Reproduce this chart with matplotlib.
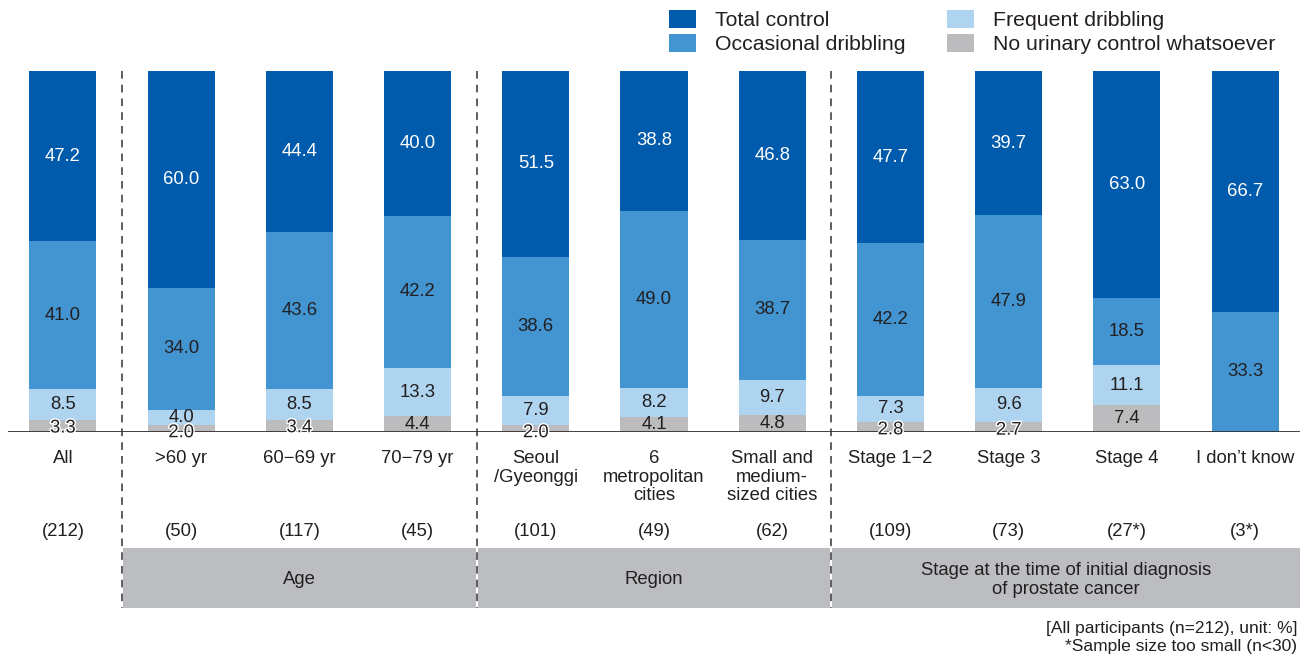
import matplotlib.pyplot as plt
import matplotlib.patheffects as pe
from matplotlib.patches import Rectangle
import numpy as np

plt.rcParams['font.family'] = ['Liberation Sans', 'DejaVu Sans']

# --- datos ---
categories = ["All", ">60 yr", "60\u221269 yr", "70\u221279 yr", "Seoul\n/Gyeonggi",
              "6\nmetropolitan\ncities", "Small and\nmedium-\nsized cities",
              "Stage 1\u22122", "Stage 3", "Stage 4", "I don\u02bct know"]
counts = ["(212)", "(50)", "(117)", "(45)", "(101)", "(49)", "(62)",
          "(109)", "(73)", "(27*)", "(3*)"]
no_control = [3.3, 2.0, 3.4, 4.4, 2.0, 4.1, 4.8, 2.8, 2.7, 7.4, 0]
frequent = [8.5, 4.0, 8.5, 13.3, 7.9, 8.2, 9.7, 7.3, 9.6, 11.1, 0]
occasional = [41.0, 34.0, 43.6, 42.2, 38.6, 49.0, 38.7, 42.2, 47.9, 18.5, 33.3]
total_control = [47.2, 60.0, 44.4, 40.0, 51.5, 38.8, 46.8, 47.7, 39.7, 63.0, 66.7]
series_names = ["No urinary control whatsoever", "Frequent dribbling",
                "Occasional dribbling", "Total control"]
groups = [("Age", 1, 3), ("Region", 4, 6),
          ("Stage at the time of initial diagnosis\nof prostate cancer", 7, 10)]

colors = ["#BCBCBF", "#AED4F0", "#4295D1", "#005BAC"]
text_dark = "#231F20"
fs = 13.3

W, H = 1311, 657
fig = plt.figure(figsize=(W / 100, H / 100), dpi=100)
ax = fig.add_axes([8 / W, (H - 432) / H, (1300 - 8) / W, (432 - 71) / H])

x = np.arange(len(categories))
width = 0.567
series = [no_control, frequent, occasional, total_control]
bottom = np.zeros(len(categories))
for vals, col, name in zip(series, colors, series_names):
    vals = np.array(vals)
    ax.bar(x, vals, width, bottom=bottom, color=col, label=name, zorder=2)
    for i, v in enumerate(vals):
        if v <= 0:
            continue
        y = bottom[i] + v / 2
        if name == series_names[0] and v < 3.5:
            y = v - 2.2
        tc = "white" if name == "Total control" else text_dark
        t = ax.text(x[i], y, f"{v:.1f}", ha="center", va="center",
                    fontsize=fs, color=tc, zorder=4, clip_on=False)
        if name == series_names[0] and v < 3.5:
            t.set_path_effects([pe.withStroke(linewidth=2, foreground="white")])
    bottom += vals

ax.set_xlim(-0.465, 10.465)
ax.set_ylim(0, 100)
ax.axis("off")
ax.axhline(0, color="#333333", lw=1.3, zorder=3)

trans = ax.get_xaxis_transform()
px = 1 / 361  # un píxel en fracción de eje
for xd in [0.5, 3.5, 6.5]:
    ax.plot([xd, xd], [1.0, (432 - 608) * px], transform=trans, color="#333333",
            lw=1.1, ls=(0, (5, 4)), clip_on=False, zorder=3)

for i, (cat, n) in enumerate(zip(categories, counts)):
    ax.text(x[i], (432 - 450) * px, cat, transform=trans, ha="center", va="top",
            fontsize=fs, color=text_dark, linespacing=1.12)
    ax.text(x[i], (432 - 531) * px, n, transform=trans, ha="center", va="center",
            fontsize=fs, color=text_dark)

for label, a, b in groups:
    x0 = a - 0.5 + 0.008
    x1 = min(b + 0.5 - 0.008, 10.465)
    ax.add_patch(Rectangle((x0, (432 - 608) * px), x1 - x0, 60 * px, transform=trans,
                           facecolor="#BCBDC0", edgecolor="none", clip_on=False, zorder=1))
    ax.text((x0 + x1) / 2, (432 - 580) * px, label, transform=trans, ha="center",
            va="center", fontsize=fs, color=text_dark, linespacing=1.12)

# leyenda
handles, labels = ax.get_legend_handles_labels()
order = [3, 2, 1, 0]
fig.legend([handles[k] for k in order], [labels[k] for k in order],
           loc="upper left", bbox_to_anchor=(669 / W, 1 - 10 / H), ncol=2, frameon=False,
           fontsize=15.3, handlelength=1.27, handleheight=0.9, handletextpad=0.9,
           columnspacing=1.95, labelspacing=0.18, borderaxespad=0, borderpad=0,
           labelcolor=text_dark)

fig.text(1297 / W, 1 - 629 / H, "[All participants (n=212), unit: %]", ha="right",
         va="center", fontsize=12.5, color=text_dark)
fig.text(1297 / W, 1 - 646 / H, "*Sample size too small (n<30)", ha="right",
         va="center", fontsize=12.5, color=text_dark)

fig.savefig("out.png", dpi=100)
